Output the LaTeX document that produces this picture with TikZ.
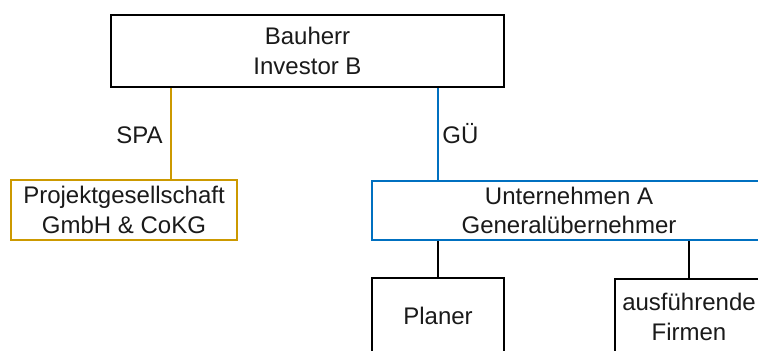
\documentclass[tikz,border=0pt]{standalone}
\usepackage{fontspec}
\setmainfont{Liberation Sans}
\usepackage{tikz}
\usetikzlibrary{positioning}
\usepackage{xcolor}
\definecolor{spacolor}{RGB}{204, 153, 0}
\definecolor{guecolor}{RGB}{0, 112, 192}
\definecolor{inkcolor}{RGB}{26, 26, 26}

\begin{document}
\begin{tikzpicture}[x=0.5pt, y=-0.5pt,
    party/.style={rectangle, draw=#1, fill=white, line width=1.1pt, text=inkcolor,
                  align=center, inner sep=0pt, font=\fontsize{12}{14.75}\selectfont},
    party/.default=black,
    link/.style={-, line width=1.1pt, draw=#1},
    link/.default=black,
    contract/.style={text=inkcolor, inner sep=0pt, font=\fontsize{12}{14.75}\selectfont}
]
\useasboundingbox (0,0) rectangle (758,350);

% Client
\node[party, line width=1.3pt, minimum width=196.5pt, minimum height=36pt] (bauherr) at (307.5,51) {Bauherr\\Investor B};

% Contract partners
\node[party=spacolor, minimum width=113pt, minimum height=30pt] (projekt) at (124,210) {Projektgesellschaft\\GmbH \& CoKG};
\node[party=guecolor, minimum width=197pt, minimum height=29.5pt] (unternehmen) at (569,210.5) {Unternehmen A\\Generalübernehmer};

% Subcontractors
\node[party, minimum width=66pt, minimum height=38pt] (planer) at (438,316) {Planer};
\node[party, minimum width=74pt, minimum height=38pt] (firmen) at (689,317) {ausführende\\Firmen};

% Connections
\coordinate (spa x) at (171,0);
\coordinate (gue x) at (438,0);
\draw[link=spacolor] (bauherr.south -| spa x) -- (projekt.north -| spa x);
\draw[link=guecolor] (bauherr.south -| gue x) -- (unternehmen.north -| gue x);
\draw[link] (unternehmen.south -| planer.north) -- (planer.north);
\draw[link] (unternehmen.south -| firmen.north) -- (firmen.north);

% Contract labels
\node[contract, anchor=base east] (spa) at (163,143) {SPA};
\node[contract, anchor=base west] (gue) at (442,143) {GÜ};

\end{tikzpicture}
\end{document}
